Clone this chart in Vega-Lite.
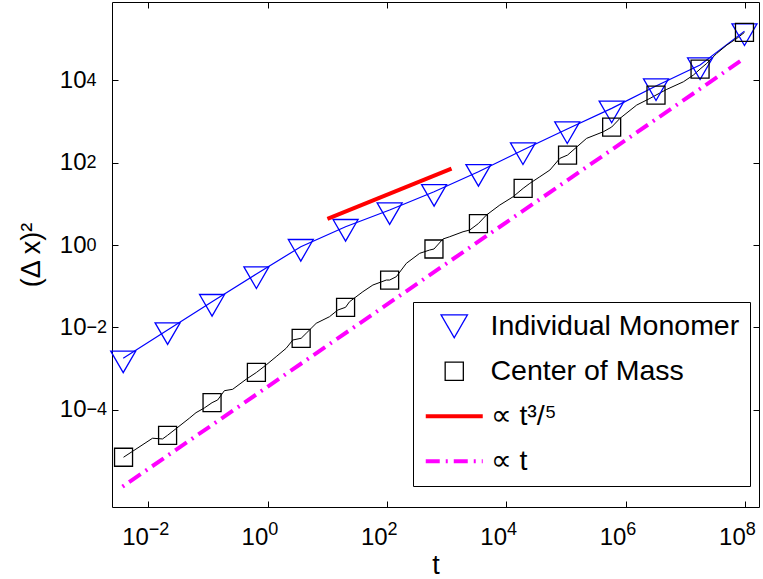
{
  "$schema": "https://vega.github.io/schema/vega-lite/v6.json",
  "width": 647,
  "height": 505,
  "autosize": "none",
  "padding": {"left": 112, "top": 2, "right": 4, "bottom": 72},
  "background": "white",
  "config": {
    "view": {"stroke": "black", "strokeWidth": 1},
    "font": "Liberation Sans",
    "axis": {
      "labelFont": "Liberation Sans", "labelFontSize": 24, "labelColor": "black",
      "titleFont": "Liberation Sans", "titleFontWeight": "normal", "titleColor": "black", "titleFontSize": 27,
      "grid": false, "domain": false, "tickColor": "black", "tickSize": -6, "tickWidth": 1,
      "labelFlush": false, "labelOverlap": false
    }
  },
  "datasets": {
    "monomer_markers": [
      {"t": 0.00379, "y": 0.001766}, {"t": 0.0210, "y": 0.00859}, {"t": 0.1167, "y": 0.04188},
      {"t": 0.6457, "y": 0.1972}, {"t": 3.581, "y": 0.910}, {"t": 20.14, "y": 2.786},
      {"t": 110.2, "y": 7.096}, {"t": 612.4, "y": 19.72}, {"t": 3388, "y": 60.39},
      {"t": 18880, "y": 203.7}, {"t": 104200, "y": 659.2}, {"t": 578100, "y": 2099},
      {"t": 3199000, "y": 7311}, {"t": 17500000, "y": 23660}, {"t": 97050000, "y": 158500}
    ],
    "com_markers": [
      {"t": 0.00384, "y": 6.934e-6}, {"t": 0.0210, "y": 2.371e-5}, {"t": 0.1167, "y": 1.472e-4},
      {"t": 0.6457, "y": 7.98e-4}, {"t": 3.631, "y": 5.408e-3}, {"t": 20.14, "y": 0.03062},
      {"t": 110.2, "y": 0.1409}, {"t": 609.5, "y": 0.7998}, {"t": 3388, "y": 3.296},
      {"t": 19010, "y": 23.88}, {"t": 105400, "y": 153.8}, {"t": 578100, "y": 737.9},
      {"t": 3199000, "y": 4416}, {"t": 17500000, "y": 18920}, {"t": 97050000, "y": 147600}
    ],
    "com_line": [
      {"t": 0.00384, "y": 6.934e-6}, {"t": 0.01175, "y": 2.009e-5}, {"t": 0.0173, "y": 1.932e-5},
      {"t": 0.0210, "y": 2.371e-5}, {"t": 0.02972, "y": 3.516e-5}, {"t": 0.04853, "y": 6.152e-5},
      {"t": 0.06295, "y": 8.414e-5}, {"t": 0.0867, "y": 1.094e-4}, {"t": 0.1167, "y": 1.472e-4},
      {"t": 0.1449, "y": 1.71e-4}, {"t": 0.1877, "y": 2.877e-4}, {"t": 0.2588, "y": 3.112e-4},
      {"t": 0.4345, "y": 5.445e-4}, {"t": 0.6457, "y": 7.98e-4}, {"t": 0.94, "y": 1.213e-3},
      {"t": 1.384, "y": 1.932e-3}, {"t": 2.037, "y": 3.09e-3}, {"t": 2.626, "y": 4.909e-3},
      {"t": 3.631, "y": 5.408e-3}, {"t": 4.406, "y": 7.145e-3}, {"t": 6.486, "y": 0.0125},
      {"t": 10.84, "y": 0.01811}, {"t": 14.93, "y": 0.0263}, {"t": 20.14, "y": 0.03062},
      {"t": 23.49, "y": 0.04188}, {"t": 39.26, "y": 0.07328}, {"t": 57.8, "y": 0.1067},
      {"t": 97.0, "y": 0.1409}, {"t": 110.2, "y": 0.1409}, {"t": 142.6, "y": 0.1698},
      {"t": 209.9, "y": 0.3589}, {"t": 350.8, "y": 0.6281}, {"t": 516.4, "y": 0.7558},
      {"t": 609.5, "y": 0.7998}, {"t": 863, "y": 1.4}, {"t": 1119, "y": 1.591},
      {"t": 1871, "y": 2.104}, {"t": 2421, "y": 2.315}, {"t": 3388, "y": 3.331},
      {"t": 4613, "y": 5.358}, {"t": 7727, "y": 9.376}, {"t": 12910, "y": 14.93},
      {"t": 19010, "y": 23.88}, {"t": 24600, "y": 31.55}, {"t": 36220, "y": 45.71},
      {"t": 53330, "y": 66.53}, {"t": 78340, "y": 127.9}, {"t": 105400, "y": 153.8},
      {"t": 219800, "y": 391.7}, {"t": 417800, "y": 566.2}, {"t": 578100, "y": 737.9},
      {"t": 796200, "y": 1199}, {"t": 1517000, "y": 2523}, {"t": 2535000, "y": 3673},
      {"t": 3199000, "y": 4416}, {"t": 4842000, "y": 6081}, {"t": 9183000, "y": 9290},
      {"t": 13520000, "y": 13520}, {"t": 17500000, "y": 18920}, {"t": 22700000, "y": 26060},
      {"t": 33340000, "y": 45600}, {"t": 49090000, "y": 72440}, {"t": 72280000, "y": 105400},
      {"t": 97050000, "y": 147600}
    ],
    "fit35": [{"t": 10, "y": 4.3}, {"t": 1200, "y": 72}],
    "fit1": [{"t": 0.00369, "y": 1.337e-6}, {"t": 87700000, "y": 31330}]
  },
  "resolve": {"axis": {"x": "independent", "y": "independent"}},
  "layer": [
    {
      "data": {"name": "fit1"},
      "mark": {"type": "line", "strokeWidth": 4, "strokeDash": [14, 6, 2, 6], "strokeDashOffset": 20, "strokeCap": "butt"},
      "encoding": {
        "x": {"field": "t", "type": "quantitative",
          "scale": {"type": "log", "domain": [0.00246, 170000000], "nice": false, "zero": false},
          "axis": {"orient": "bottom", "values": [0.01, 1, 100, 10000, 1000000, 100000000],
            "labelExpr": "'10'", "labelAlign": "right",
            "encode": {"labels": {"update": {"dx": {"signal": "datum.value < 1 ? 4 : 8.5"}}}},
            "title": "t", "labelPadding": 24, "titlePadding": 3}},
        "y": {"field": "y", "type": "quantitative",
          "scale": {"type": "log", "domain": [4.28e-7, 809000], "nice": false, "zero": false},
          "axis": {"orient": "left", "values": [0.0001, 0.01, 1, 100, 10000],
            "labelExpr": "'10'", "labelAlign": "right",
            "title": "(Δ x)²", "titleAlign": "center", "titleAnchor": "middle", "titleY": 252.5,
            "labelPadding": 32, "titlePadding": 14}},
        "color": {"datum": "∝ t",
          "scale": {"domain": ["Individual Monomer", "Center of Mass", "∝ t³/⁵", "∝ t"],
                    "range": ["#0000ff", "#000000", "#ff0000", "#ff00ff"]},
          "legend": {"orient": "none", "legendX": 301, "legendY": 300, "title": null,
            "strokeColor": "black", "fillColor": "white", "padding": 10,
            "labelFont": "Liberation Sans", "labelFontSize": 28.5, "labelColor": "black",
            "labelLimit": 500, "labelOffset": 22, "rowPadding": 16, "symbolOffset": 17,
            "symbolSize": 700, "symbolType": "stroke",
            "encode": {"symbols": {"update": {
              "shape": {"signal": "datum.value === 'Individual Monomer' ? 'triangle-down' : datum.value === 'Center of Mass' ? 'square' : 'stroke'"},
              "size": {"signal": "datum.value === 'Individual Monomer' ? 700 : datum.value === 'Center of Mass' ? 330 : 3249"},
              "strokeWidth": {"signal": "datum.value === 'Individual Monomer' || datum.value === 'Center of Mass' ? 1.3 : 4"},
              "strokeDash": {"signal": "datum.value === '∝ t' ? [14, 6, 2, 6] : [1, 0]"},
              "stroke": {"signal": "datum.value === 'Individual Monomer' ? '#0000ff' : datum.value === 'Center of Mass' ? '#000000' : datum.value === '∝ t' ? '#ff00ff' : '#ff0000'"},
              "fill": {"value": "transparent"},
              "opacity": {"value": 1}
            }}}}
        }
      }
    },
    {
      "data": {"name": "monomer_markers"},
      "mark": {"type": "line", "strokeWidth": 1.2},
      "encoding": {
        "x": {"field": "t", "type": "quantitative", "axis": null},
        "y": {"field": "y", "type": "quantitative", "axis": null},
        "color": {"datum": "Individual Monomer"}
      }
    },
    {
      "data": {"name": "com_line"},
      "mark": {"type": "line", "strokeWidth": 1},
      "encoding": {
        "x": {"field": "t", "type": "quantitative", "axis": null},
        "y": {"field": "y", "type": "quantitative", "axis": null},
        "color": {"datum": "Center of Mass"}
      }
    },
    {
      "data": {"name": "monomer_markers"},
      "mark": {"type": "point", "shape": "triangle-down", "size": 625, "filled": false, "strokeWidth": 1.3, "opacity": 1, "yOffset": 3.6},
      "encoding": {
        "x": {"field": "t", "type": "quantitative", "axis": null},
        "y": {"field": "y", "type": "quantitative", "axis": null},
        "color": {"datum": "Individual Monomer"}
      }
    },
    {
      "data": {"name": "com_markers"},
      "mark": {"type": "point", "shape": "square", "size": 324, "filled": false, "strokeWidth": 1.3, "opacity": 1},
      "encoding": {
        "x": {"field": "t", "type": "quantitative", "axis": null},
        "y": {"field": "y", "type": "quantitative", "axis": null},
        "color": {"datum": "Center of Mass"}
      }
    },
    {
      "data": {"name": "fit35"},
      "mark": {"type": "line", "strokeWidth": 4, "strokeCap": "butt"},
      "encoding": {
        "x": {"field": "t", "type": "quantitative", "axis": null},
        "y": {"field": "y", "type": "quantitative", "axis": null},
        "color": {"datum": "∝ t³/⁵"}
      }
    },
    {
      "data": {"name": "monomer_markers"},
      "mark": {"type": "point", "opacity": 0},
      "encoding": {
        "x": {"field": "t", "type": "quantitative",
          "axis": {"orient": "bottom", "values": [0.01, 1, 100, 10000, 1000000, 100000000],
            "labelExpr": "replace(toString(round(log(datum.value)/LN10)), '-', '−')",
            "labelAlign": "left", "labelFontSize": 18, "tickOpacity": 0,
            "encode": {"labels": {"update": {"dx": {"signal": "datum.value < 1 ? 4.5 : 9"}}}},
            "labelPadding": 19, "title": null}},
        "y": {"field": "y", "type": "quantitative",
          "axis": {"orient": "left", "values": [0.0001, 0.01, 1, 100, 10000],
            "labelExpr": "replace(toString(round(log(datum.value)/LN10)), '-', '−')",
            "labelAlign": "left", "labelFontSize": 18, "tickOpacity": 0,
            "encode": {"labels": {"update": {"dy": {"value": -12}}}},
            "labelPadding": 32, "title": null}}
      }
    },
    {
      "data": {"name": "monomer_markers"},
      "mark": {"type": "point", "opacity": 0},
      "encoding": {
        "x": {"field": "t", "type": "quantitative",
          "axis": {"orient": "top", "values": [0.01, 1, 100, 10000, 1000000, 100000000], "labels": false, "title": null}},
        "y": {"field": "y", "type": "quantitative",
          "axis": {"orient": "right", "values": [0.0001, 0.01, 1, 100, 10000], "labels": false, "title": null}}
      }
    }
  ]
}
